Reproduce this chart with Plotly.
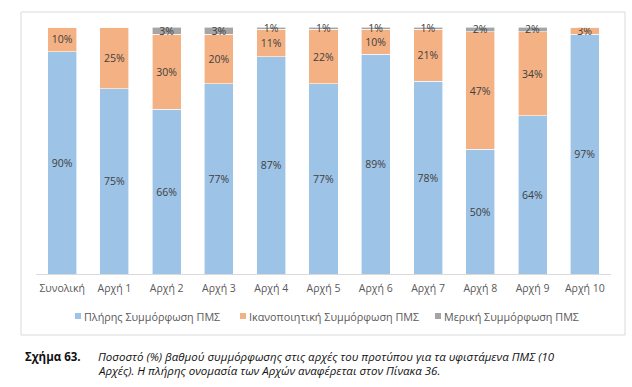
import plotly.graph_objects as go

categories = ["Συνολική", "Αρχή 1", "Αρχή 2", "Αρχή 3", "Αρχή 4", "Αρχή 5",
              "Αρχή 6", "Αρχή 7", "Αρχή 8", "Αρχή 9", "Αρχή 10"]
full = [90, 75, 66, 77, 87, 77, 89, 78, 50, 64, 97]
satisfactory = [10, 25, 30, 20, 11, 22, 10, 21, 47, 34, 3]
partial = [0, 0, 3, 3, 1, 1, 1, 1, 2, 2, 0]

series_names = ["Πλήρης Συμμόρφωση ΠΜΣ", "Ικανοποιητική Συμμόρφωση ΠΜΣ", "Μερική Συμμόρφωση ΠΜΣ"]
series_colors = ["#9DC3E6", "#F4B183", "#A5A5A5"]

caption_label = "Σχήμα 63."
caption_line1 = "Ποσοστό (%) βαθμού συμμόρφωσης στις αρχές του προτύπου για τα υφιστάμενα ΠΜΣ (10"
caption_line2 = "Αρχές). Η πλήρης ονομασία των Αρχών αναφέρεται στον Πίνακα 36."

FONT = "Open Sans"

# plot area in pixels
PL, PR, PT, PB = 36, 611, 27, 274
PW, PH = PR - PL, PB - PT


def px(x):
    return (x - PL) / PW


def py(y):
    return (PB - y) / PH


fig = go.Figure()
for name, vals, col in zip(series_names, [full, satisfactory, partial], series_colors):
    fig.add_trace(go.Bar(
        x=categories, y=vals, name=name,
        marker=dict(color=col, line=dict(color="white", width=0.6)),
        text=[f"{v}%" if v > 0 else "" for v in vals],
        textposition="inside", insidetextanchor="middle", textangle=0,
        textfont=dict(color="#404040", size=10.5, family=FONT),
        cliponaxis=False, showlegend=False,
    ))

fig.update_layout(
    barmode="stack", barnorm="percent", bargap=0.445,
    width=632, height=387,
    margin=dict(l=PL, r=632 - PR, t=PT, b=387 - PB, autoexpand=False),
    paper_bgcolor="white", plot_bgcolor="white",
    font=dict(family=FONT, color="#595959", size=10.5),
    uniformtext=dict(minsize=10.5, mode="show"),
    showlegend=False,
    xaxis=dict(showline=True, linecolor="#D9D9D9", linewidth=1, ticks="",
               tickfont=dict(size=10.5, color="#595959", family=FONT),
               ticklabelstandoff=4),
    yaxis=dict(range=[0, 100], visible=False, showgrid=False),
)

# chart border
fig.add_shape(type="rect", xref="paper", yref="paper", x0=px(21), x1=px(625), y0=py(335), y1=py(12),
              line=dict(color="#D9D9D9", width=1), fillcolor="rgba(0,0,0,0)", layer="below")

# legend (manual, Excel-style)
legend_sq_x = [75, 240, 435]
legend_y = 316
for name, col, sx in zip(series_names, series_colors, legend_sq_x):
    fig.add_shape(type="rect", xref="paper", yref="paper",
                  x0=px(sx), x1=px(sx + 6), y0=py(legend_y + 3), y1=py(legend_y - 3),
                  line=dict(width=0), fillcolor=col)
    fig.add_annotation(xref="paper", yref="paper", x=px(sx + 6.5), y=py(legend_y),
                       xanchor="left", yanchor="middle", showarrow=False,
                       text=name, font=dict(size=10.8, color="#595959", family=FONT))

# caption
fig.add_annotation(xref="paper", yref="paper", x=px(23), y=py(356.7),
                   xanchor="left", yanchor="middle", showarrow=False,
                   text=f"<b>{caption_label}</b>",
                   font=dict(size=11.5, color="#111111", family=FONT))
fig.add_annotation(xref="paper", yref="paper", x=px(96), y=py(356.7),
                   xanchor="left", yanchor="middle", showarrow=False,
                   text=f"<i>{caption_line1}</i>",
                   font=dict(size=11.5, color="#111111", family=FONT))
fig.add_annotation(xref="paper", yref="paper", x=px(96), y=py(370.5),
                   xanchor="left", yanchor="middle", showarrow=False,
                   text=f"<i>{caption_line2}</i>",
                   font=dict(size=11.5, color="#111111", family=FONT))

fig.write_html("out.html", config={"displayModeBar": False},
               post_script="document.body.style.margin='0px';document.body.style.overflow='hidden';")
